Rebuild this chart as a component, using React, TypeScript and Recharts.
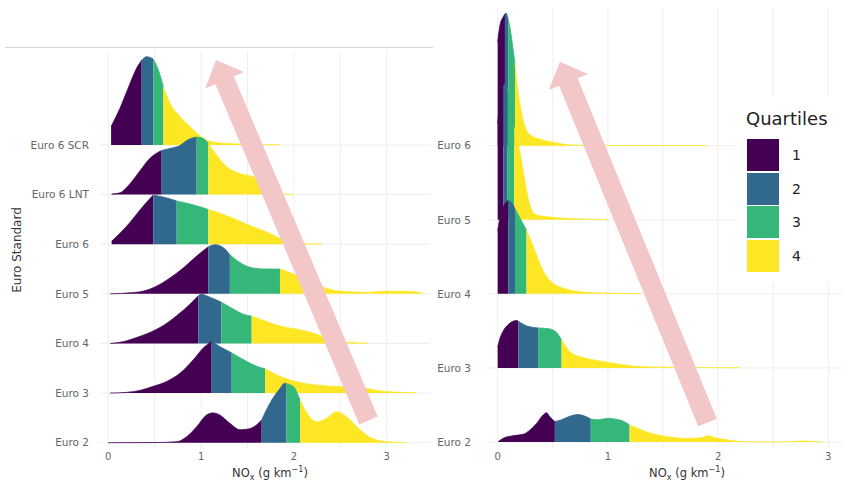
import { ComposedChart, Area, XAxis, YAxis, CartesianGrid } from "recharts";

type Pt = [number, number];

const QUARTILE_COLORS = ["#440154", "#31688e", "#35b779", "#fde725"];
const QUARTILE_LABELS = ["1", "2", "3", "4"];
const GRID_X = [0, 0.5, 1, 1.5, 2, 2.5, 3];

// left panel: density heights are in row units (1 = gap between two ridges)
const LEFT_ROWS = ["Euro 2", "Euro 3", "Euro 4", "Euro 5", "Euro 6", "Euro 6 LNT", "Euro 6 SCR"];

const LEFT_EURO2: Pt[] = [
  [0.0, 0], [0.5, 0.002], [0.74, 0.02], [0.845, 0.12], [0.952, 0.32], [1.06, 0.56], [1.13, 0.6],
  [1.2, 0.56], [1.31, 0.39], [1.42, 0.26], [1.49, 0.27], [1.6, 0.36], [1.653, 0.46], [1.74, 0.79],
  [1.85, 1.09], [1.9, 1.2], [1.92, 1.19], [1.994, 1.13], [2.066, 0.86], [2.1, 0.73], [2.17, 0.52],
  [2.245, 0.42], [2.35, 0.49], [2.46, 0.625], [2.57, 0.52], [2.68, 0.32], [2.78, 0.155],
  [2.89, 0.054], [3.03, 0.014], [3.2, 0.002],
];
const LEFT_EURO3: Pt[] = [
  [0.02, 0], [0.198, 0.014], [0.342, 0.054], [0.485, 0.135], [0.63, 0.235], [0.773, 0.4],
  [0.916, 0.67], [1.024, 0.91], [1.114, 1.04], [1.2, 0.94], [1.33, 0.81], [1.49, 0.64], [1.6, 0.54],
  [1.69, 0.49], [1.81, 0.37], [1.95, 0.27], [2.1, 0.2], [2.4, 0.14], [2.75, 0.1], [2.89, 0.054],
  [3.07, 0.02], [3.32, 0.006],
];
const LEFT_EURO4: Pt[] = [
  [0.02, 0], [0.16, 0.034], [0.306, 0.12], [0.449, 0.22], [0.593, 0.36], [0.737, 0.56], [0.88, 0.79],
  [0.97, 0.96], [1.0, 0.99], [1.096, 0.93], [1.22, 0.83], [1.35, 0.69], [1.455, 0.59], [1.545, 0.55],
  [1.68, 0.46], [1.87, 0.34], [2.05, 0.28], [2.22, 0.2], [2.4, 0.08], [2.6, 0.02], [2.8, 0.005],
];
const LEFT_EURO5: Pt[] = [
  [0.02, 0], [0.234, 0.02], [0.377, 0.054], [0.52, 0.155], [0.665, 0.32], [0.808, 0.52],
  [0.952, 0.76], [1.078, 0.95], [1.15, 0.99], [1.24, 0.93], [1.31, 0.79], [1.42, 0.63], [1.56, 0.52],
  [1.71, 0.5], [1.85, 0.5], [2.06, 0.34], [2.17, 0.22], [2.28, 0.155], [2.42, 0.075], [2.6, 0.04],
  [2.78, 0.03], [3.03, 0.054], [3.25, 0.046], [3.39, 0.014],
];
const LEFT_EURO6: Pt[] = [
  [0.036, 0.06], [0.126, 0.22], [0.234, 0.44], [0.342, 0.69], [0.449, 0.92], [0.485, 0.99],
  [0.593, 0.95], [0.737, 0.87], [0.88, 0.81], [1.078, 0.7], [1.35, 0.52], [1.52, 0.38], [1.7, 0.25],
  [1.85, 0.115], [1.95, 0.04], [2.1, 0.01], [2.3, 0.002],
];
const LEFT_EURO6_LNT: Pt[] = [
  [0.036, 0.01], [0.126, 0.035], [0.234, 0.22], [0.342, 0.48], [0.449, 0.73], [0.575, 0.89],
  [0.665, 0.93], [0.772, 0.99], [0.845, 1.09], [0.952, 1.16], [1.024, 1.13], [1.078, 1.03],
  [1.13, 0.89], [1.276, 0.56], [1.42, 0.42], [1.56, 0.36], [1.7, 0.18], [1.8, 0.06], [1.9, 0.01],
  [2.0, 0.002],
];
const LEFT_EURO6_SCR: Pt[] = [
  [0.03, 0.37], [0.126, 0.74], [0.234, 1.24], [0.306, 1.55], [0.36, 1.71], [0.414, 1.78],
  [0.486, 1.73], [0.54, 1.51], [0.594, 1.17], [0.666, 0.84], [0.773, 0.57], [0.881, 0.37],
  [0.989, 0.18], [1.097, 0.07], [1.27, 0.03], [1.52, 0.014], [1.85, 0.004],
];
const LEFT_DENSITY = [LEFT_EURO2, LEFT_EURO3, LEFT_EURO4, LEFT_EURO5, LEFT_EURO6, LEFT_EURO6_LNT, LEFT_EURO6_SCR];
const LEFT_QUARTILES = [
  [1.653, 1.92, 2.066],
  [1.114, 1.33, 1.69],
  [0.97, 1.22, 1.545],
  [1.078, 1.31, 1.85],
  [0.485, 0.737, 1.078],
  [0.575, 0.952, 1.078],
  [0.36, 0.486, 0.594],
];

// right panel
const RIGHT_ROWS = ["Euro 2", "Euro 3", "Euro 4", "Euro 5", "Euro 6"];

const RIGHT_EURO2: Pt[] = [
  [0.005, 0.005], [0.051, 0.05], [0.141, 0.085], [0.232, 0.104], [0.292, 0.16], [0.353, 0.25],
  [0.413, 0.365], [0.443, 0.395], [0.473, 0.34], [0.519, 0.275], [0.58, 0.3], [0.64, 0.34],
  [0.73, 0.37], [0.79, 0.35], [0.845, 0.31], [0.91, 0.3], [1.0, 0.32], [1.06, 0.31], [1.15, 0.275],
  [1.197, 0.23], [1.27, 0.185], [1.39, 0.117], [1.54, 0.072], [1.7, 0.05], [1.85, 0.058],
  [1.91, 0.085], [1.97, 0.058], [2.09, 0.027], [2.24, 0.004], [2.6, 0.001], [2.78, 0.014],
  [2.9, 0.004], [2.95, 0],
];
const RIGHT_EURO3: Pt[] = [
  [0.0, 0.28], [0.021, 0.4], [0.051, 0.5], [0.096, 0.585], [0.172, 0.64], [0.187, 0.63],
  [0.277, 0.56], [0.367, 0.54], [0.458, 0.53], [0.519, 0.5], [0.58, 0.38], [0.67, 0.2],
  [0.79, 0.135], [0.94, 0.09], [1.09, 0.054], [1.24, 0.023], [1.45, 0.01], [2.2, 0.002],
];
const RIGHT_EURO4: Pt[] = [
  [0.0, 0.85], [0.03, 1.1], [0.06, 1.2], [0.096, 1.26], [0.13, 1.22], [0.157, 1.15], [0.2, 1.03],
  [0.262, 0.86], [0.3, 0.72], [0.338, 0.58], [0.413, 0.31], [0.489, 0.16], [0.61, 0.07],
  [0.79, 0.023], [1.0, 0.01], [1.3, 0.003],
];
const RIGHT_EURO5: Pt[] = [
  [0.0, 1.3], [0.025, 1.65], [0.05, 1.8], [0.07, 1.84], [0.09, 1.78], [0.12, 1.55], [0.15, 1.25],
  [0.2, 0.92], [0.232, 0.65], [0.277, 0.29], [0.34, 0.07], [0.45, 0.04], [0.56, 0.025],
  [0.8, 0.008], [1.0, 0.003],
];
const RIGHT_EURO6: Pt[] = [
  [0.0, 1.4], [0.02, 1.62], [0.051, 1.74], [0.066, 1.78], [0.075, 1.79], [0.096, 1.7], [0.11, 1.61],
  [0.141, 1.29], [0.157, 1.11], [0.172, 0.89], [0.2, 0.58], [0.23, 0.35], [0.29, 0.15],
  [0.38, 0.09], [0.5, 0.045], [0.62, 0.015], [0.72, 0.007], [1.0, 0.003], [1.9, 0.002],
];
const RIGHT_DENSITY = [RIGHT_EURO2, RIGHT_EURO3, RIGHT_EURO4, RIGHT_EURO5, RIGHT_EURO6];
const RIGHT_QUARTILES = [
  [0.519, 0.845, 1.197],
  [0.187, 0.367, 0.58],
  [0.096, 0.157, 0.262],
  [0.05, 0.09, 0.15],
  [0.066, 0.096, 0.157],
];

const FONT = "'DejaVu Sans', 'Liberation Sans', sans-serif";

// one row per x used by any ridge, each ridge keeps only its own points
const buildTable = (densities: Pt[][]) => {
  const xs = Array.from(new Set(densities.flat().map((p) => p[0]))).sort((a, b) => a - b);
  return xs.map((x) => {
    const row: Record<string, number> = { x };
    densities.forEach((d, i) => {
      const hit = d.find((p) => p[0] === x);
      if (hit) row[`r${i}`] = hit[1];
    });
    return row;
  });
};

interface RidgePanelProps {
  rows: string[];
  densities: Pt[][];
  quartiles: number[][];
  width: number;
  height: number;
  margin: { top: number; right: number; bottom: number; left: number };
  xDomain: [number, number];
  yDomain: [number, number];
  yAxisWidth: number;
  labelGap: number;
}

const RidgePanel = ({ rows, densities, quartiles, width, height, margin, xDomain, yDomain, yAxisWidth, labelGap }: RidgePanelProps) => {
  const data = buildTable(densities);
  const areas = [];
  // top ridge first so lower ridges are painted over it
  for (let i = rows.length - 1; i >= 0; i--) {
    const pts = densities[i];
    const cuts = [pts[0][0], ...quartiles[i], pts[pts.length - 1][0]];
    for (let k = 0; k < 4; k++) {
      const lo = cuts[k];
      const hi = cuts[k + 1];
      areas.push(
        <Area
          key={`${i}-${k}`}
          type="monotone"
          dataKey={(row: Record<string, number>) => {
            const h = row[`r${i}`];
            if (h == null || row.x < lo || row.x > hi) return null;
            return i + h;
          }}
          baseValue={i}
          connectNulls
          fill={QUARTILE_COLORS[k]}
          fillOpacity={1}
          stroke={QUARTILE_COLORS[k]}
          strokeWidth={0.8}
          dot={false}
          activeDot={false}
          isAnimationActive={false}
        />
      );
    }
  }

  return (
    <ComposedChart width={width} height={height} data={data} margin={margin}>
      <CartesianGrid stroke="#efefef" strokeWidth={1} syncWithTicks />
      <XAxis
        type="number"
        dataKey="x"
        domain={xDomain}
        allowDataOverflow
        ticks={GRID_X.filter((v) => v <= xDomain[1])}
        tickFormatter={(v: number) => (Number.isInteger(v) ? String(v) : "")}
        axisLine={false}
        tickLine={false}
        tickSize={0}
        tickMargin={5}
        height={30}
        tick={{ fontSize: 10, fill: "#666", fontFamily: FONT }}
      />
      <YAxis
        type="number"
        domain={yDomain}
        allowDataOverflow
        ticks={rows.map((_, i) => i)}
        tickFormatter={(v: number) => rows[v] ?? ""}
        axisLine={false}
        tickLine={false}
        tickSize={0}
        tickMargin={labelGap}
        width={yAxisWidth}
        tick={{ fontSize: 10.5, fill: "#666", fontFamily: FONT }}
      />
      {areas}
    </ComposedChart>
  );
};

// pink annotation arrows (tail -> tip)
const ARROWS = [
  { tail: [368.5, 420.5], tip: [216, 60] },
  { tail: [707.5, 422.5], tip: [560, 61.7] },
];

const arrowPolygon = (tail: number[], tip: number[]) => {
  const dx = tip[0] - tail[0];
  const dy = tip[1] - tail[1];
  const len = Math.hypot(dx, dy);
  const ux = dx / len;
  const uy = dy / len;
  const nx = -uy;
  const ny = ux;
  const shaft = 10;
  const head = 21;
  const headLen = 22;
  const bx = tip[0] - ux * headLen;
  const by = tip[1] - uy * headLen;
  const p = [
    [tail[0] + nx * shaft, tail[1] + ny * shaft],
    [bx + nx * shaft, by + ny * shaft],
    [bx + nx * head, by + ny * head],
    tip,
    [bx - nx * head, by - ny * head],
    [bx - nx * shaft, by - ny * shaft],
    [tail[0] - nx * shaft, tail[1] - ny * shaft],
  ];
  return p.map((q) => `${q[0].toFixed(1)},${q[1].toFixed(1)}`).join(" ");
};

const NoxTitle = ({ cx }: { cx: number }) => (
  <div
    style={{
      position: "absolute",
      left: cx,
      top: 462,
      transform: "translateX(-50%)",
      fontSize: 11.5,
      color: "#333",
      whiteSpace: "nowrap",
      lineHeight: "16px",
    }}
  >
    NO<span style={{ fontSize: "0.7em", verticalAlign: "sub" }}>x</span> (g km
    <span style={{ fontSize: "0.7em", verticalAlign: "super" }}>−1</span>)
  </div>
);

const App = () => {
  return (
    <div style={{ position: "absolute", left: 0, top: 0, width: 848, height: 491, background: "#fff", fontFamily: FONT, overflow: "hidden" }}>
      <div style={{ position: "absolute", left: 0, top: 0 }}>
        <RidgePanel
          rows={LEFT_ROWS}
          densities={LEFT_DENSITY}
          quartiles={LEFT_QUARTILES}
          width={440}
          height={491}
          margin={{ top: 50.7, right: 10, bottom: 13, left: 10 }}
          xDomain={[-0.0894, 3.4666]}
          yDomain={[-0.107, 7.9]}
          yAxisWidth={90}
          labelGap={11}
        />
      </div>
      <div style={{ position: "absolute", left: 420, top: 0 }}>
        <RidgePanel
          rows={RIGHT_ROWS}
          densities={RIGHT_DENSITY}
          quartiles={RIGHT_QUARTILES}
          width={428}
          height={491}
          margin={{ top: 8, right: 5.5, bottom: 13, left: 23 }}
          xDomain={[-0.0878, 3.129]}
          yDomain={[-0.081, 5.859]}
          yAxisWidth={45}
          labelGap={17}
        />
      </div>

      <div style={{ position: "absolute", left: 5, top: 47, width: 428, borderTop: "1.5px solid #d6d6d6" }} />

      <div
        style={{
          position: "absolute",
          left: 17,
          top: 250,
          transform: "translate(-50%, -50%) rotate(-90deg)",
          fontSize: 12,
          color: "#333",
          whiteSpace: "nowrap",
        }}
      >
        Euro Standard
      </div>
      <NoxTitle cx={270} />
      <NoxTitle cx={687} />

      <svg width={848} height={491} style={{ position: "absolute", left: 0, top: 0, pointerEvents: "none" }}>
        {ARROWS.map((a, i) => (
          <polygon key={i} points={arrowPolygon(a.tail, a.tip)} fill="#f3c6c8" />
        ))}
      </svg>

      <div style={{ position: "absolute", left: 738, top: 96, width: 108, height: 186, background: "#fff" }}>
        <div style={{ position: "absolute", left: 8, top: 13, fontSize: 18, color: "#222", lineHeight: "20px" }}>Quartiles</div>
        {QUARTILE_LABELS.map((label, k) => (
          <div key={label}>
            <div
              style={{
                position: "absolute",
                left: 9,
                top: 43 + k * 33.5,
                width: 32,
                height: 32,
                background: QUARTILE_COLORS[k],
              }}
            />
            <div style={{ position: "absolute", left: 54, top: 50 + k * 33.5, fontSize: 14, color: "#222", lineHeight: "18px" }}>
              {label}
            </div>
          </div>
        ))}
      </div>
    </div>
  );
};

export default App;
